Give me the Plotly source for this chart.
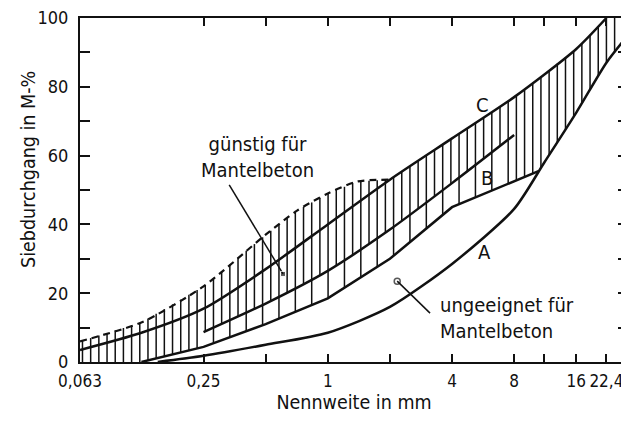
import numpy as np
import plotly.graph_objects as go

# ---- data ----
# Curve A (Sieblinie A)
a_mm = [0.15, 0.25, 0.5, 1, 2, 4, 8, 11.2, 16, 22.4, 28.5]
a_val = [0, 1.8, 5, 8.5, 16, 28.5, 44.5, 58, 72.5, 87, 95]
# Curve B
b_mm = [0.25, 0.5, 1, 2, 4, 8]
b_val = [8.7, 17, 26.5, 38.5, 52, 66]
# Curve C
c_mm = [0.063, 0.125, 0.25, 0.5, 1, 2, 4, 8, 16, 22.4]
c_val = [3.5, 8.5, 15.5, 27, 40, 53, 65, 77, 91, 100]
# dashed upper limit of the favourable zone
d_mm = [0.063, 0.125, 0.25, 0.5, 0.71, 1, 1.4, 2]
d_val = [6, 11.5, 22, 37, 44, 49, 52.5, 53]
# lower limit of the hatched zone
l_mm = [0.125, 0.25, 0.5, 1, 2, 4, 10.5]
l_val = [0, 4.4, 11, 18.5, 30, 45, 55.5]

x_tickvals = [0.063, 0.25, 0.5, 1, 2, 4, 8, 11.2, 16, 22.4]
x_ticktext = ["0,063", "0,25", "", "1", "", "4", "8", "", "16", "22,4"]
y_tickvals = list(range(0, 101, 10))
y_ticktext = [str(v) if v % 20 == 0 else "" for v in y_tickvals]

X_MIN, X_MAX = 0.063, 28.5

def interp(mm, val, x):
    return float(np.interp(np.log10(x), np.log10(mm), val))

# ---- hatch lines ----
hx_main, hy_main = [], []
hx_low, hy_low = [], []
lx = np.log10(X_MIN) + 0.012
step = 8.2 / 206.7
i = 0
while lx < np.log10(X_MAX):
    x = 10 ** lx
    if x <= d_mm[-1]:
        top = interp(d_mm, d_val, x)
    elif x <= c_mm[-1]:
        top = min(100, interp(c_mm, c_val, x))
    else:
        top = 100
    if x < l_mm[0]:
        bot = 0
    elif x <= l_mm[-1]:
        bot = interp(l_mm, l_val, x)
    else:
        bot = interp(a_mm, a_val, x)
    if b_mm[0] <= x <= b_mm[-1]:
        mid = interp(b_mm, b_val, x)
        hx_main += [x, x, None]
        hy_main += [top, mid, None]
        if i % 2 == 0:
            hx_low += [x, x, None]
            hy_low += [mid, bot, None]
    else:
        hx_main += [x, x, None]
        hy_main += [top, bot, None]
    lx += step
    i += 1

fig = go.Figure()
black = "#111111"
fig.add_trace(go.Scatter(x=hx_main, y=hy_main, mode="lines",
                         line=dict(color=black, width=1.5), hoverinfo="skip"))
fig.add_trace(go.Scatter(x=hx_low, y=hy_low, mode="lines",
                         line=dict(color=black, width=1.5), hoverinfo="skip"))
fig.add_trace(go.Scatter(x=d_mm, y=d_val, mode="lines",
                         line=dict(color=black, width=2.2, dash="7px,5px",
                                   shape="spline", smoothing=0.7),
                         hoverinfo="skip"))
for mm, val in [(c_mm, c_val), (b_mm, b_val), (a_mm, a_val)]:
    fig.add_trace(go.Scatter(x=mm, y=val, mode="lines",
                             line=dict(color=black, width=2.5, shape="spline", smoothing=0.7),
                             hoverinfo="skip"))
fig.add_trace(go.Scatter(x=l_mm, y=l_val, mode="lines",
                         line=dict(color=black, width=2.5), hoverinfo="skip"))

# pointer lines
fig.add_trace(go.Scatter(x=[0.333, 0.607], y=[51.5, 25.6], mode="lines+markers",
                         line=dict(color=black, width=1.5),
                         marker=dict(symbol="square", size=[0, 5], color=black),
                         hoverinfo="skip"))
fig.add_trace(go.Scatter(x=[3.13, 2.17], y=[14.2, 23.5], mode="lines+markers",
                         line=dict(color=black, width=1.5),
                         marker=dict(symbol="circle-open", size=[0, 6], color=black,
                                     line=dict(width=1.5, color=black)),
                         hoverinfo="skip"))

font = "DejaVu Sans Condensed, Liberation Sans Narrow, DejaVu Sans, sans-serif"
ann = [
    dict(x=np.log10(0.455), y=59.5, text="günstig für<br>Mantelbeton", align="center",
         xanchor="center", yanchor="middle", size=20),
    dict(x=np.log10(3.43), y=12.8, text="ungeeignet für<br>Mantelbeton", align="left",
         xanchor="left", yanchor="middle", size=20),
    dict(x=np.log10(5.77), y=32, text="A", xanchor="center", yanchor="middle", size=20),
    dict(x=np.log10(5.9), y=53.5, text="B", xanchor="center", yanchor="middle", size=20),
    dict(x=np.log10(5.64), y=74.7, text="C", xanchor="center", yanchor="middle", size=20),
]
for a in ann:
    s = a.pop("size")
    a.update(xref="x", yref="y", showarrow=False, font=dict(size=s, color=black, family=font))
ann.append(dict(xref="paper", yref="paper", x=(28 - 80) / 548, y=(362 - 170) / 344,
                xanchor="center", yanchor="middle", text="Siebdurchgang in M-%",
                showarrow=False, textangle=-90, font=dict(size=19.5, color=black, family=font)))

# the page body adds an 8 px offset; margins compensate so the plot area
# lands at x 80..628, y 18..362 in the window
fig.update_layout(
    width=629, height=421,
    margin=dict(l=72, r=9, t=10, b=67),
    paper_bgcolor="white", plot_bgcolor="white",
    showlegend=False,
    annotations=ann,
    font=dict(family=font, size=17, color=black),
)

fig.update_xaxes(type="log", range=[np.log10(X_MIN), np.log10(X_MAX)],
                 tickvals=x_tickvals, ticktext=x_ticktext, tickangle=0, automargin=False,
                 ticks="inside", ticklen=8, tickwidth=1.8, tickcolor=black,
                 showline=True, linewidth=2, linecolor=black, mirror="ticks",
                 showgrid=False, zeroline=False, ticklabelstandoff=3,
                 ticklabeloverflow="allow",
                 title=dict(text="Nennweite in mm", standoff=2,
                            font=dict(size=19.5, family=font, color=black)),
                 tickfont=dict(size=17, family=font, color=black))
fig.update_yaxes(range=[0, 100], tickvals=y_tickvals, ticktext=y_ticktext, automargin=False,
                 ticks="inside", ticklen=10, tickwidth=1.8, tickcolor=black,
                 showline=True, linewidth=2, linecolor=black, mirror="ticks",
                 showgrid=False, zeroline=False, ticklabelstandoff=6,
                 ticklabeloverflow="allow",
                 tickfont=dict(size=18, family=font, color=black))

fig.write_html("out.html")
